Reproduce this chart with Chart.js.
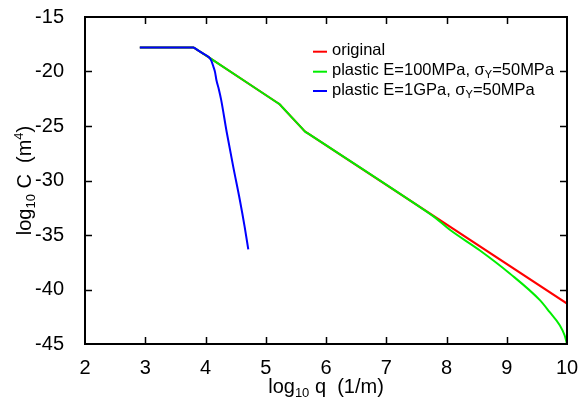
<!DOCTYPE html>
<html>
<head>
<meta charset="utf-8">
<script src="https://cdn.jsdelivr.net/npm/chart.js@4.4.0/dist/chart.umd.min.js"></script>
<style>
    body { margin: 0; background: #fff; }
    #wrap { width: 583px; height: 400px; position: relative; }
</style>
</head>
<body>
<div id="wrap"><canvas id="psd"></canvas></div>
<script>
// log10 q values and log10 C values
const originalQ = [2.91, 3.80, 4.05, 5.23, 5.65, 10.0];
const originalC = [-17.79, -17.79, -18.68, -23.0, -25.5, -41.29];

const plastic100Q = [2.91, 3.80, 3.82, 4.05, 5.18, 5.23, 5.28, 5.60, 5.65, 5.70, 7.5, 7.8, 8.05, 8.55, 9.05, 9.55, 9.71, 9.88, 9.96, 10.0];
const plastic100C = [-17.79, -17.79, -17.86, -18.68, -22.82, -23.0, -23.30, -25.20, -25.5, -25.68, -32.22, -33.36, -34.5, -36.4, -38.53, -40.98, -42.06, -43.28, -44.2, -45.0];

const plastic1GQ = [2.91, 3.80, 3.82, 3.95, 4.02, 4.07, 4.10, 4.13, 4.16, 4.18, 4.22, 4.26, 4.35, 4.46, 4.57, 4.65, 4.71];
const plastic1GC = [-17.79, -17.79, -17.86, -18.32, -18.55, -18.77, -19.05, -19.54, -20.1, -20.76, -21.6, -22.6, -25.5, -28.73, -31.79, -34.25, -36.32];

const seriesNames = ["original", "plastic E=100MPa, ", "plastic E=1GPa, "];
const seriesColors = ["#ff0000", "#00ee00", "#0000ff"];

const xMin = 2, xMax = 10, xStep = 1;
const yMin = -45, yMax = -15, yStep = 5;

function toPoints(xs, ys) {
    return xs.map((x, i) => ({ x: x, y: ys[i] }));
}

// keep chart area fixed: no extra room asked for by end tick labels
function noScalePadding(scale) {
    scale.paddingTop = 0;
    scale.paddingBottom = 0;
    scale.paddingLeft = 0;
    scale.paddingRight = 0;
}

// draws frame, inward ticks on all sides, axis titles and the legend
const gnuplotLook = {
    id: "gnuplotLook",
    afterDraw(chart) {
        const ctx = chart.ctx;
        const a = chart.chartArea;
        const xs = chart.scales.x, ys = chart.scales.y;
        ctx.save();
        ctx.strokeStyle = "#000";
        ctx.lineWidth = 2;
        ctx.strokeRect(a.left, a.top, a.right - a.left, a.bottom - a.top);

        ctx.lineWidth = 1.5;
        ctx.beginPath();
        for (let v = xMin + xStep; v < xMax; v += xStep) {
            const px = Math.round(xs.getPixelForValue(v)) + 0.5;
            ctx.moveTo(px, a.bottom); ctx.lineTo(px, a.bottom - 7);
            ctx.moveTo(px, a.top); ctx.lineTo(px, a.top + 7);
        }
        for (let v = yMin + yStep; v < yMax; v += yStep) {
            const py = Math.round(ys.getPixelForValue(v)) + 0.5;
            ctx.moveTo(a.left, py); ctx.lineTo(a.left + 7, py);
            ctx.moveTo(a.right, py); ctx.lineTo(a.right - 7, py);
        }
        ctx.stroke();

        ctx.fillStyle = "#000";
        ctx.textBaseline = "alphabetic";
        const big = "20px 'Liberation Sans', Arial, sans-serif";
        const small = "13px 'Liberation Sans', Arial, sans-serif";
        function partsWidth(parts) {
            let w = 0;
            parts.forEach(p => { ctx.font = p.f; w += ctx.measureText(p.t).width; });
            return w;
        }
        function drawParts(parts, x, y) {
            parts.forEach(p => {
                ctx.font = p.f;
                ctx.fillText(p.t, x, y + p.dy);
                x += ctx.measureText(p.t).width;
            });
        }

        // x title: log10 q  (1/m)
        const xTitle = [
            { t: "log", f: big, dy: 0 }, { t: "10", f: small, dy: 4 },
            { t: " q  (1/m)", f: big, dy: 0 }
        ];
        const cx = (a.left + a.right) / 2;
        drawParts(xTitle, cx - partsWidth(xTitle) / 2, 393);

        // y title: log10 C  (m4)
        const yTitle = [
            { t: "log", f: big, dy: 0 }, { t: "10", f: small, dy: 4 },
            { t: " C  (m", f: big, dy: 0 }, { t: "4", f: small, dy: -8 },
            { t: ")", f: big, dy: 0 }
        ];
        ctx.save();
        ctx.translate(31, (a.top + a.bottom) / 2);
        ctx.rotate(-Math.PI / 2);
        drawParts(yTitle, -partsWidth(yTitle) / 2, 0);
        ctx.restore();

        // legend
        const lf = "16.5px 'Liberation Sans', Arial, sans-serif";
        const lfs = "11px 'Liberation Sans', Arial, sans-serif";
        const rowY = [51.7, 71.7, 91];
        seriesNames.forEach((name, i) => {
            ctx.strokeStyle = seriesColors[i];
            ctx.lineWidth = 2;
            ctx.beginPath();
            ctx.moveTo(313, rowY[i]); ctx.lineTo(327, rowY[i]);
            ctx.stroke();
            let parts = [{ t: name, f: lf, dy: 0 }];
            if (i > 0) {
                parts.push({ t: "σ", f: lf, dy: 0 }, { t: "Y", f: lfs, dy: 3 }, { t: "=50MPa", f: lf, dy: 0 });
            }
            drawParts(parts, 332, rowY[i] + 3.5);
        });
        ctx.restore();
    }
};

const psdChart = new Chart(document.getElementById("psd"), {
    type: "line",
    data: {
        datasets: [
            { label: seriesNames[0], data: toPoints(originalQ, originalC), borderColor: seriesColors[0], order: 3 },
            { label: seriesNames[1], data: toPoints(plastic100Q, plastic100C), borderColor: seriesColors[1], order: 2, cubicInterpolationMode: "monotone" },
            { label: seriesNames[2], data: toPoints(plastic1GQ, plastic1GC), borderColor: seriesColors[2], order: 1, cubicInterpolationMode: "monotone" }
        ]
    },
    options: {
        responsive: true,
        maintainAspectRatio: false,
        animation: false,
        layout: { padding: { top: 17, right: 16, left: 0, bottom: 0 } },
        elements: {
            line: { borderWidth: 2, tension: 0, fill: false },
            point: { radius: 0 }
        },
        plugins: { legend: { display: false }, tooltip: { enabled: false } },
        scales: {
            x: {
                type: "linear", min: xMin, max: xMax,
                grid: { display: false }, border: { display: false },
                ticks: { stepSize: xStep, padding: 4, color: "#000", font: { family: "'Liberation Sans', Arial, sans-serif", size: 20 } },
                afterFit(scale) { scale.height = 56; noScalePadding(scale); }
            },
            y: {
                type: "linear", min: yMin, max: yMax,
                grid: { display: false }, border: { display: false },
                ticks: { stepSize: yStep, padding: 13, color: "#000", font: { family: "'Liberation Sans', Arial, sans-serif", size: 20 } },
                afterFit(scale) { scale.width = 85; noScalePadding(scale); }
            }
        }
    },
    plugins: [gnuplotLook]
});
</script>
</body>
</html>
